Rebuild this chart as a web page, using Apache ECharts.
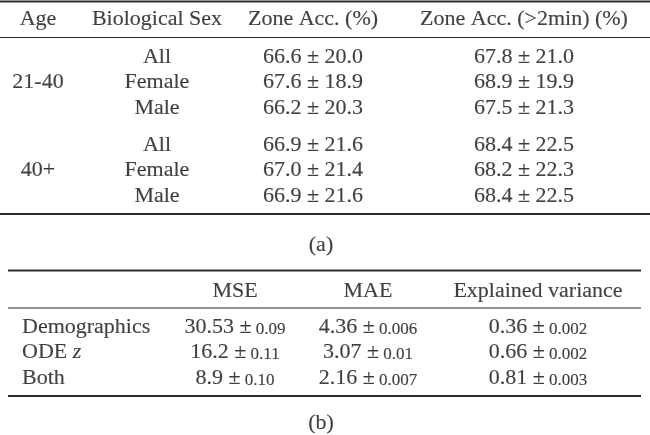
<!DOCTYPE html>
<html>
<head>
<meta charset="utf-8">
<script src="https://cdn.jsdelivr.net/npm/echarts@6/dist/echarts.min.js"></script>
<style>html,body{margin:0;padding:0;background:#fff}#c{width:650px;height:435px}</style>
</head>
<body>
<div id="c"></div>
<script>
// ---- data: table (a) ----
const headersA = ['Age', 'Biological Sex', 'Zone Acc. (%)', 'Zone Acc. (>2min) (%)'];
const ageGroups = ['21-40', '40+'];
const sexes = ['All', 'Female', 'Male'];
const zoneAccMean = ['66.6', '67.6', '66.2', '66.9', '67.0', '66.9'];
const zoneAccStd = ['20.0', '18.9', '20.3', '21.6', '21.4', '21.6'];
const zoneAcc2Mean = ['67.8', '68.9', '67.5', '68.4', '68.2', '68.4'];
const zoneAcc2Std = ['21.0', '19.9', '21.3', '22.5', '22.3', '22.5'];
// ---- data: table (b) ----
const headersB = ['', 'MSE', 'MAE', 'Explained variance'];
const features = ['Demographics', 'ODE z', 'Both'];
const mseMean = ['30.53', '16.2', '8.9'];
const mseErr = ['0.09', '0.11', '0.10'];
const maeMean = ['4.36', '3.07', '2.16'];
const maeErr = ['0.006', '0.01', '0.007'];
const evMean = ['0.36', '0.66', '0.81'];
const evErr = ['0.002', '0.002', '0.003'];
const captions = ['(a)', '(b)'];

// ---- layout (positions only) ----
const colXa = [38, 157, 313, 524];
const headYa = 19;
const rowYa = [57, 82, 108, 145, 170, 196];
const colXb = [22, 235, 368, 538];
const headYb = 291;
const rowYb = [327, 352, 378];
const capPos = [[321, 245], [321, 423]];

const FS = 22, FSS = 17;
const FONT = 'Liberation Serif';
const TXT = '#111';
const base = {fontFamily: FONT, color: TXT, lineHeight: FS, verticalAlign: 'bottom',
  textBorderColor: '#111', textBorderWidth: 0.15};
const rich = {
  n: Object.assign({fontSize: FS}, base),
  s: Object.assign({fontSize: FSS}, base),
  i: Object.assign({fontSize: FS, fontStyle: 'italic'}, base)
};
function esc(t){ return String(t).replace(/[{}|]/g, ''); }

const centered = [];
const leftAligned = [];
function add(arr, x, y, fmt){ arr.push({value: [x, y], label: {formatter: fmt}}); }

// table (a)
headersA.forEach((h, c) => add(centered, colXa[c], headYa, '{n|' + esc(h) + '}'));
ageGroups.forEach((g, gi) => {
  add(centered, colXa[0], rowYa[gi * 3 + 1], '{n|' + g + '}');
  sexes.forEach((s, si) => {
    const r = gi * 3 + si;
    add(centered, colXa[1], rowYa[r], '{n|' + s + '}');
    add(centered, colXa[2], rowYa[r], '{n|' + zoneAccMean[r] + ' ± ' + zoneAccStd[r] + '}');
    add(centered, colXa[3], rowYa[r], '{n|' + zoneAcc2Mean[r] + ' ± ' + zoneAcc2Std[r] + '}');
  });
});
// table (b)
headersB.forEach((h, c) => { if (h) add(centered, colXb[c], headYb, '{n|' + h + '}'); });
features.forEach((f, r) => {
  const fmt = f === 'ODE z' ? '{n|ODE }{i|z}' : '{n|' + f + '}';
  add(leftAligned, colXb[0], rowYb[r], fmt);
  add(centered, colXb[1], rowYb[r], '{n|' + mseMean[r] + ' ±}{s| ' + mseErr[r] + '}');
  add(centered, colXb[2], rowYb[r], '{n|' + maeMean[r] + ' ±}{s| ' + maeErr[r] + '}');
  add(centered, colXb[3], rowYb[r], '{n|' + evMean[r] + ' ±}{s| ' + evErr[r] + '}');
});
captions.forEach((c, i) => add(centered, capPos[i][0], capPos[i][1], '{n|' + c + '}'));

function rule(x1, x2, y, w){
  return {type: 'line', shape: {x1: x1, y1: y, x2: x2, y2: y}, style: {stroke: '#2a2a2a', lineWidth: w}, silent: true};
}

const chart = echarts.init(document.getElementById('c'), null, {renderer: 'canvas'});
chart.setOption({
  animation: false,
  backgroundColor: '#fff',
  textStyle: {fontFamily: FONT},
  grid: {left: 0, right: 0, top: 0, bottom: 0},
  xAxis: {type: 'value', min: 0, max: 650, show: false},
  yAxis: {type: 'value', min: 0, max: 435, inverse: true, show: false},
  series: [
    {type: 'scatter', symbolSize: 0, data: centered,
     label: {show: true, position: 'inside', fontFamily: FONT, rich: rich}},
    {type: 'scatter', symbolSize: 0, data: leftAligned,
     label: {show: true, position: 'right', distance: 0, fontFamily: FONT, rich: rich}}
  ],
  graphic: [
    rule(0, 650, 1.5, 2),
    rule(0, 650, 37.5, 1.2),
    rule(0, 650, 214, 2),
    rule(8, 641, 270.5, 2),
    rule(8, 641, 308, 1.2),
    rule(8, 641, 396, 2)
  ]
});
</script>
</body>
</html>
